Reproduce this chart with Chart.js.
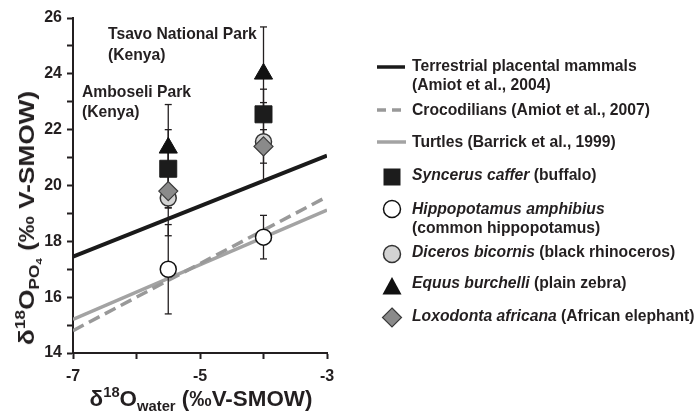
<!DOCTYPE html>
<html>
<head>
<meta charset="utf-8">
<script src="https://cdn.jsdelivr.net/npm/chart.js@4/dist/chart.umd.min.js"></script>
<style>
  html, body { margin: 0; padding: 0; background: #fff; }
  #wrap { position: relative; width: 700px; height: 414px; overflow: hidden;
          font-family: "Liberation Sans", Arial, Helvetica, sans-serif; color: #231f20; font-weight: bold; }
  canvas { position: absolute; left: 0; top: 0; }
  .t { position: absolute; white-space: nowrap; font-size: 15.7px; line-height: 18px; }
  .t i { font-style: italic; }
  .ax { position: absolute; white-space: nowrap; font-size: 22.4px; line-height: 26px; }
  .ax sup, .ax sub { font-size: 0.66em; line-height: 0; position: relative; vertical-align: baseline; }
  .ax sup { top: -0.62em; }
  .ax sub { top: 0.32em; }
  svg.mk { position: absolute; overflow: visible; }
</style>
</head>
<body>
<div id="wrap">
  <canvas id="c" width="700" height="414"></canvas>
</div>
<script>
// ---------- data ----------
const sites = ['Amboseli Park (Kenya)', 'Tsavo National Park (Kenya)'];
const siteX = [-5.5, -4];

const buffaloY   = [20.6, 22.55];
const buffaloErr = [1.4, 0.9];
const hippoY     = [17.0, 18.15];
const hippoErr   = [1.6, 0.78];
const rhinoY     = [19.55, 21.57];
const rhinoErr   = [0.35, 1.4];
const zebraY     = [21.35, 24.0];
const zebraErr   = [1.55, 1.68];
const elephantY  = [19.8, 21.4];
const elephantErr= [1.6, 0.6];

const lineX   = [-7, -3];
const mammalY = [17.45, 21.07];
const crocY   = [14.8, 19.6];
const turtleY = [15.2, 19.12];

const xTicks = [-7, -5, -3];
const yTicks = [14, 16, 18, 20, 22, 24, 26];

// ---------- styles ----------
const INK = '#231f20';
const species = [
  { name: 'elephant', y: elephantY, e: elephantErr, style: 'rectRot', r: 9.5, fill: '#8a8a8a', stroke: '#3a3a3a', bw: 1.2 },
  { name: 'zebra',    y: zebraY,    e: zebraErr,    style: 'triangle', r: 10.5, fill: '#111', stroke: '#111', bw: 1 },
  { name: 'buffalo',  y: buffaloY,  e: buffaloErr,  style: 'rect', r: 12, fill: '#1c1c1c', stroke: '#1c1c1c', bw: 1 },
  { name: 'rhino',    y: rhinoY,    e: rhinoErr,    style: 'circle', r: 8, fill: '#d3d3d3', stroke: '#333', bw: 1.5 },
  { name: 'hippo',    y: hippoY,    e: hippoErr,    style: 'circle', r: 8, fill: '#ffffff', stroke: '#111', bw: 1.5 }
];

const datasets = [];
// markers (drawn on top: order 0)
species.forEach(s => {
  datasets.push({
    label: s.name, order: 0,
    data: siteX.map((x, i) => ({ x, y: s.y[i] })),
    pointStyle: s.style, pointRadius: s.r, pointBackgroundColor: s.fill,
    pointBorderColor: s.stroke, pointBorderWidth: s.bw, showLine: false
  });
});
// error bars (order 1)
species.forEach(s => {
  siteX.forEach((x, i) => {
    const lo = s.y[i] - s.e[i], hi = s.y[i] + s.e[i];
    datasets.push({
      label: s.name + ' err', order: 1, showLine: true,
      data: [{ x, y: lo }, { x, y: hi }],
      borderColor: INK, borderWidth: 1.3, pointStyle: 'line', pointRadius: 3.5,
      pointBorderColor: INK, pointBorderWidth: 1.3
    });
  });
});
// regression lines (order 2)
datasets.push({ label: 'Terrestrial placental mammals', order: 2, showLine: true,
  data: lineX.map((x, i) => ({ x, y: mammalY[i] })), borderColor: '#1a1a1a', borderWidth: 4, pointRadius: 0 });
datasets.push({ label: 'Crocodilians', order: 2, showLine: true,
  data: lineX.map((x, i) => ({ x, y: crocY[i] })), borderColor: '#999999', borderWidth: 3.5, borderDash: [12, 6], pointRadius: 0 });
datasets.push({ label: 'Turtles', order: 2, showLine: true,
  data: lineX.map((x, i) => ({ x, y: turtleY[i] })), borderColor: '#a3a3a3', borderWidth: 3.5, pointRadius: 0 });

const tickFont = { family: '"Liberation Sans", Arial, sans-serif', size: 16, weight: 'bold' };

new Chart(document.getElementById('c'), {
  type: 'scatter',
  data: { datasets },
  options: {
    responsive: false, animation: false, events: [],
    layout: { padding: { top: 18, right: 373, bottom: 0, left: 0 } },
    plugins: { legend: { display: false }, tooltip: { enabled: false } },
    scales: {
      x: {
        type: 'linear', min: -7, max: -3,
        ticks: { stepSize: 1, color: INK, font: tickFont, padding: 8, autoSkip: false,
                 callback: v => xTicks.includes(v) ? String(v) : '' },
        grid: { drawOnChartArea: false, drawTicks: true, tickLength: 6, tickColor: INK, tickWidth: 2 },
        border: { color: INK, width: 2 },
        afterFit: s => { s.height = 61; }
      },
      y: {
        type: 'linear', min: 14, max: 26,
        ticks: { stepSize: 1, color: INK, font: tickFont, padding: 5, autoSkip: false,
                 callback: v => yTicks.includes(v) ? String(v) : '' },
        grid: { drawOnChartArea: false, drawTicks: true, tickLength: 6, tickColor: INK, tickWidth: 2 },
        border: { color: INK, width: 2 },
        afterFit: s => { s.width = 73; }
      }
    }
  }
});

// ---------- text overlays ----------
const wrap = document.getElementById('wrap');
function addText(html, left, capCenter, cls) {
  const d = document.createElement('div');
  d.className = cls || 't';
  d.innerHTML = html;
  d.style.left = left + 'px';
  d.style.top = (capCenter - 9) + 'px';
  wrap.appendChild(d);
  return d;
}
// site annotations
addText('Tsavo National Park', 108, 34);
addText('(Kenya)', 108, 55);
addText('Amboseli Park', 82, 91.5);
addText('(Kenya)', 82, 112);

// axis titles
const xt = document.createElement('div');
xt.className = 'ax';
xt.innerHTML = 'δ<sup>18</sup>O<sub>water</sub> (‰V-SMOW)';
xt.style.left = '201px'; xt.style.top = '399px';
xt.style.transform = 'translate(-50%,-50%)';
wrap.appendChild(xt);

const yt = document.createElement('div');
yt.className = 'ax';
yt.innerHTML = 'δ<sup>18</sup>O<sub>PO<sub>4</sub></sub> (‰ V-SMOW)';
yt.style.left = '27px'; yt.style.top = '218px';
yt.style.transform = 'translate(-50%,-50%) rotate(-90deg) scaleX(1.17)';
wrap.appendChild(yt);

// legend
const svgNS = 'http://www.w3.org/2000/svg';
function addSvg(cx, cy, inner) {
  const s = document.createElementNS(svgNS, 'svg');
  s.setAttribute('class', 'mk');
  s.setAttribute('width', 40); s.setAttribute('height', 30);
  s.style.left = (cx - 20) + 'px'; s.style.top = (cy - 15) + 'px';
  s.innerHTML = inner;
  wrap.appendChild(s);
}
addSvg(391, 67, '<line x1="6" y1="15" x2="34" y2="15" stroke="#1a1a1a" stroke-width="3.5"/>');
addSvg(391, 110, '<line x1="6" y1="15" x2="30" y2="15" stroke="#999" stroke-width="3.5" stroke-dasharray="9,6"/>');
addSvg(391, 142, '<line x1="6" y1="15" x2="35" y2="15" stroke="#a3a3a3" stroke-width="3.5"/>');
addSvg(391.5, 177, '<rect x="11.5" y="6.5" width="17" height="17" fill="#1c1c1c"/>');
addSvg(391.5, 209, '<circle cx="20" cy="15" r="8.5" fill="#fff" stroke="#111" stroke-width="1.5"/>');
addSvg(391.5, 254, '<circle cx="20" cy="15" r="8.5" fill="#d3d3d3" stroke="#333" stroke-width="1.5"/>');
addSvg(391.5, 286, '<polygon points="20,6 29.5,23.5 10.5,23.5" fill="#111"/>');
addSvg(391.5, 317, '<polygon points="20,6 29.5,15.5 20,25 10.5,15.5" fill="#8a8a8a" stroke="#3a3a3a" stroke-width="1.2"/>');

addText('Terrestrial placental mammals', 412, 66);
addText('(Amiot et al., 2004)', 412, 85);
addText('Crocodilians (Amiot et al., 2007)', 412, 110);
addText('Turtles (Barrick et al., 1999)', 412, 142);
addText('<i>Syncerus caffer</i> (buffalo)', 412, 175);
addText('<i>Hippopotamus amphibius</i>', 412, 208.5);
addText('(common hippopotamus)', 412, 228);
addText('<i>Diceros bicornis</i> (black rhinoceros)', 412, 251.5);
addText('<i>Equus burchelli</i> (plain zebra)', 412, 282.5);
addText('<i>Loxodonta africana</i> (African elephant)', 412, 315.5);
</script>
</body>
</html>
